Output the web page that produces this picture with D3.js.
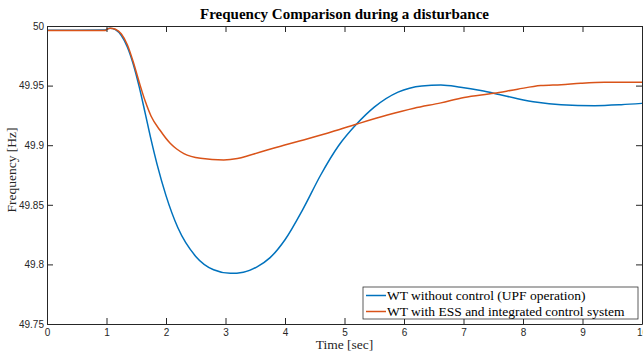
<!DOCTYPE html>
<html>
<head>
<meta charset="utf-8">
<script src="https://cdn.jsdelivr.net/npm/d3@7"></script>
<style>
  body { margin: 0; background: #fff; }
  svg { display: block; }
  .serif { font-family: "Liberation Serif", "DejaVu Serif", serif; }
</style>
</head>
<body>
<svg id="chart"></svg>
<script>
// Data
const blueTime = [0, 0.5, 0.98, 1.0, 1.06, 1.15, 1.25, 1.35, 1.45, 1.55, 1.65, 1.75, 1.85, 2.0, 2.2, 2.5, 2.8, 3.08, 3.3, 3.53, 3.75, 4.0, 4.3, 4.6, 4.9, 5.2, 5.5, 5.9, 6.3, 6.62, 6.95, 7.29, 7.6, 7.91, 8.24, 8.64, 9.2, 9.65, 10];
const blueFreq = [49.9965, 49.9965, 49.9966, 49.9972, 49.9982, 49.9969, 49.9919, 49.9824, 49.9679, 49.9489, 49.9269, 49.9044, 49.8839, 49.8577, 49.8307, 49.8067, 49.7955, 49.7925, 49.7935, 49.798, 49.8057, 49.8207, 49.8462, 49.875, 49.8995, 49.9175, 49.9319, 49.9445, 49.9497, 49.9505, 49.9486, 49.9458, 49.9425, 49.939, 49.936, 49.934, 49.9332, 49.934, 49.9351];

const redTime = [0, 0.5, 0.98, 1.0, 1.06, 1.15, 1.25, 1.35, 1.45, 1.55, 1.65, 1.75, 1.9, 2.07, 2.18, 2.3, 2.58, 2.97, 3.2, 3.42, 3.98, 4.26, 4.71, 5.21, 5.72, 6.17, 6.62, 7.01, 7.51, 7.91, 8.3, 8.64, 8.97, 9.37, 10];
const redFreq = [49.9962, 49.9962, 49.9962, 49.997, 49.9982, 49.9973, 49.9933, 49.9843, 49.9698, 49.9528, 49.937, 49.9243, 49.9125, 49.9016, 49.8968, 49.893, 49.889, 49.8876, 49.8888, 49.8918, 49.9, 49.9038, 49.91, 49.9178, 49.9253, 49.931, 49.9355, 49.94, 49.9435, 49.947, 49.95, 49.9508, 49.952, 49.9528, 49.9528];

const xTicks = [0, 1, 2, 3, 4, 5, 6, 7, 8, 9, 10];
const yTicks = [49.75, 49.8, 49.85, 49.9, 49.95, 50];

const seriesNames = ['WT without control (UPF operation)', 'WT with ESS and integrated control system'];
const seriesColors = ['#0072BD', '#D95319'];

const width = 643, height = 353;
const margin = {top: 26, right: 1, bottom: 29, left: 47};
const innerW = width - margin.left - margin.right;
const innerH = height - margin.top - margin.bottom;
const axisColor = '#262626';
const sans = '"Liberation Sans", Arial, sans-serif';

const svg = d3.select('#chart')
  .attr('width', width)
  .attr('height', height);

const g = svg.append('g')
  .attr('transform', 'translate(' + margin.left + ',' + margin.top + ')');

const x = d3.scaleLinear().domain([0, 10]).range([0, innerW]);
const y = d3.scaleLinear().domain([49.75, 50]).range([innerH, 0]);

// lines first, clipped to the axes box
g.append('clipPath').attr('id', 'clip')
  .append('rect').attr('width', innerW).attr('height', innerH);

const line = d3.line()
  .x(d => x(d[0]))
  .y(d => y(d[1]))
  .curve(d3.curveMonotoneX);

const series = [
  d3.zip(blueTime, blueFreq),
  d3.zip(redTime, redFreq)
];

g.append('g').attr('clip-path', 'url(#clip)')
  .selectAll('path')
  .data(series)
  .enter().append('path')
  .attr('d', line)
  .attr('fill', 'none')
  .attr('stroke', (d, i) => seriesColors[i])
  .attr('stroke-width', 1.5)
  .attr('stroke-linejoin', 'round');

// axes: MATLAB style box with inward ticks on all four sides
const tickLen = 6;
const styleAxis = sel => {
  sel.select('.domain').attr('stroke', axisColor).attr('stroke-width', 1);
  sel.selectAll('.tick line').attr('stroke', axisColor).attr('stroke-width', 1);
  sel.selectAll('.tick text')
    .attr('fill', axisColor)
    .attr('font-family', sans)
    .attr('font-size', 10);
};

const xAxis = g.append('g')
  .attr('transform', 'translate(0,' + innerH + ')')
  .call(d3.axisBottom(x).tickValues(xTicks).tickSizeInner(-tickLen).tickSizeOuter(0).tickPadding(5))
  .call(styleAxis);
xAxis.selectAll('.tick text').attr('dy', '0.75em').attr('y', 4);

g.append('g')
  .call(d3.axisTop(x).tickValues(xTicks).tickSizeInner(-tickLen).tickSizeOuter(0).tickFormat(''))
  .call(styleAxis);

g.append('g')
  .call(d3.axisLeft(y).tickValues(yTicks).tickSizeInner(-tickLen).tickSizeOuter(0).tickPadding(3)
    .tickFormat(d => d3.format('')(+d.toFixed(2))))
  .call(styleAxis);

g.append('g')
  .attr('transform', 'translate(' + innerW + ',0)')
  .call(d3.axisRight(y).tickValues(yTicks).tickSizeInner(-tickLen).tickSizeOuter(0).tickFormat(''))
  .call(styleAxis);

// title and axis labels
svg.append('text')
  .attr('class', 'serif')
  .attr('x', margin.left + innerW / 2)
  .attr('y', 19)
  .attr('text-anchor', 'middle')
  .attr('fill', '#000')
  .attr('font-weight', 'bold')
  .attr('font-size', 15)
  .text('Frequency Comparison during a disturbance');

svg.append('text')
  .attr('class', 'serif')
  .attr('x', margin.left + innerW / 2)
  .attr('y', 349)
  .attr('text-anchor', 'middle')
  .attr('fill', axisColor)
  .attr('font-size', 13.5)
  .text('Time [sec]');

svg.append('text')
  .attr('class', 'serif')
  .attr('transform', 'translate(16,' + (margin.top + innerH / 2 - 5) + ') rotate(-90)')
  .attr('text-anchor', 'middle')
  .attr('fill', axisColor)
  .attr('font-size', 13.5)
  .text('Frequency [Hz]');

// legend box, lower right
const legend = svg.append('g').attr('transform', 'translate(363,287)');
legend.append('rect')
  .attr('width', 275)
  .attr('height', 32)
  .attr('fill', '#fff')
  .attr('stroke', axisColor)
  .attr('stroke-width', 0.75);

const items = legend.selectAll('g.item')
  .data(seriesNames)
  .enter().append('g')
  .attr('class', 'item')
  .attr('transform', (d, i) => 'translate(0,' + (8.5 + i * 16) + ')');

items.append('line')
  .attr('x1', 3).attr('x2', 23)
  .attr('stroke', (d, i) => seriesColors[i])
  .attr('stroke-width', 1.5);

items.append('text')
  .attr('class', 'serif')
  .attr('x', 24)
  .attr('dy', '0.35em')
  .attr('fill', '#000')
  .attr('font-size', 13.5)
  .text(d => d);
</script>
</body>
</html>
